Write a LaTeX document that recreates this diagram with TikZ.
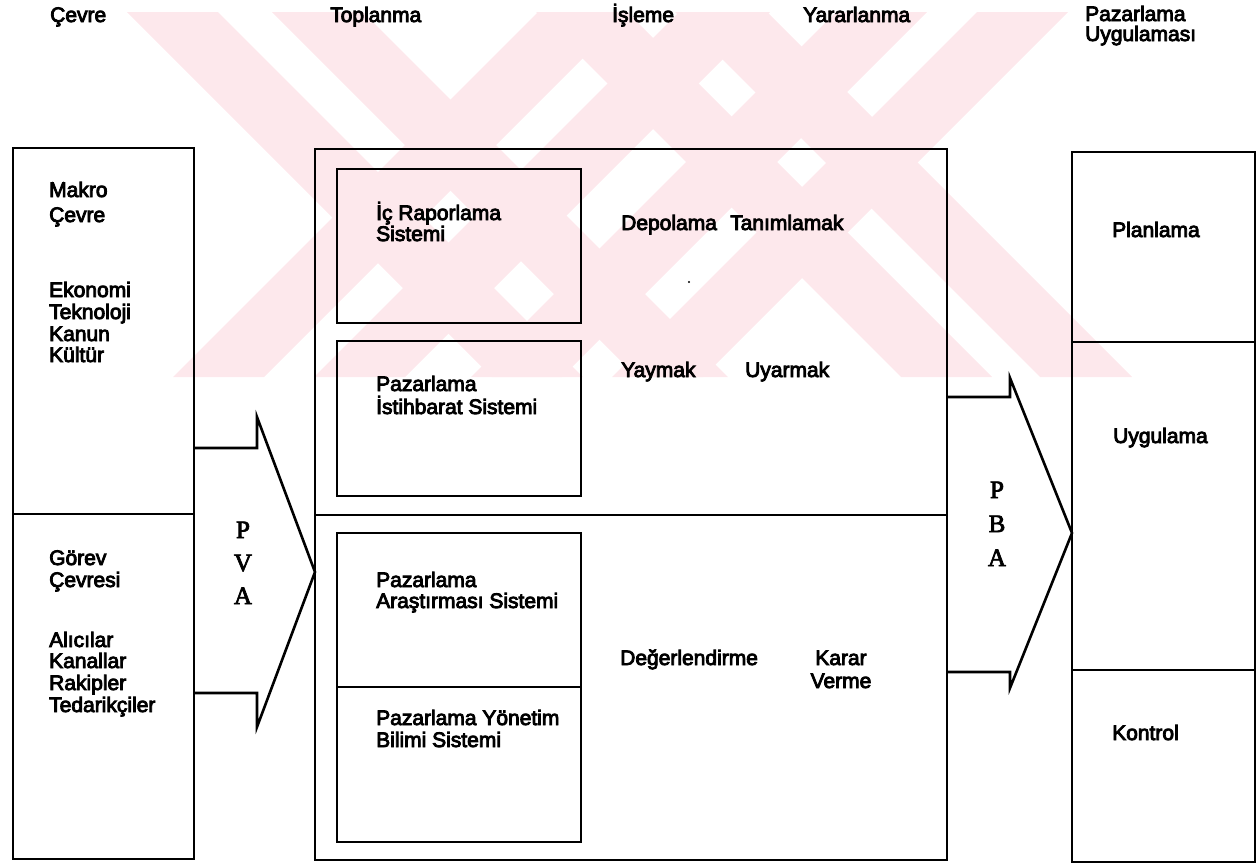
\documentclass[tikz,border=0pt]{standalone}
\usepackage{fontspec}
\setmainfont[FakeBold=4]{Liberation Sans}
\newfontfamily\letterfont[FakeBold=3]{Liberation Serif}
\definecolor{markpink}{RGB}{253,232,236}
\begin{document}
\begin{tikzpicture}[x=1pt,y=-1pt,
  panel/.style={draw=black,line width=2.8pt,inner sep=0pt,outer sep=0pt,anchor=north west},
  blockarrow/.style={draw=black,line width=2.6pt,line join=miter},
  lbl/.style={anchor=base west,inner sep=0pt,font=\fontsize{21}{22}\selectfont},
  clbl/.style={anchor=base,inner sep=0pt,font=\fontsize{21}{22}\selectfont},
  letter/.style={anchor=base,inner sep=0pt,font=\letterfont\fontsize{25}{26}\selectfont}
]
\useasboundingbox (0,0) rectangle (1259,863);

% pale striped emblem in the background
\begin{scope}
  \clip (0,12) rectangle (1259,377);
  \foreach \a/\b in {115/206,260/351,524/615,663/755}
    \fill[markpink] (\a+12,12) -- (\b+12,12) -- (\b+377,377) -- (\a+377,377) -- cycle;
  \foreach \a/\b in {550/641,691/782,848/939,989/1080}
    \fill[markpink] (\a-12,12) -- (\b-12,12) -- (\b-377,377) -- (\a-377,377) -- cycle;
\end{scope}

% column headings
\node[lbl] (hcevre) at (50,22) {Çevre};
\node[lbl] (htop)   at (330,22) {Toplanma};
\node[lbl] (hisl)   at (612,22) {İşleme};
\node[lbl] (hyar)   at (803,22) {Yararlanma};
\node[lbl] (hpaz1)  at (1085,21) {Pazarlama};
\node[lbl] (hpaz2)  at (1085,41) {Uygulaması};

% environment column
\node[panel,minimum width=181pt,minimum height=366pt] (macro) at (13,148) {};
\node[panel,minimum width=181pt,minimum height=345pt] (task)  at (13,514) {};

% marketing information system
\node[panel,minimum width=632pt,minimum height=366pt] (upper) at (315,149) {};
\node[panel,minimum width=632pt,minimum height=345pt] (lower) at (315,515) {};
\node[panel,minimum width=244pt,minimum height=154pt] (irs) at (337,169) {};
\node[panel,minimum width=244pt,minimum height=155pt] (mis) at (337,341) {};
\node[panel,minimum width=244pt,minimum height=154pt] (mrs) at (337,533) {};
\node[panel,minimum width=244pt,minimum height=155pt] (mss) at (337,687) {};

% marketing management column
\node[panel,minimum width=183pt,minimum height=190pt] (plan) at (1072,152) {};
\node[panel,minimum width=183pt,minimum height=328pt] (impl) at (1072,342) {};
\node[panel,minimum width=183pt,minimum height=192pt] (ctrl) at (1072,670) {};

% block arrows
\draw[blockarrow] (macro.east |- 0,448) -- (257,448) -- (257,417)
  -- (upper.west |- 0,572) -- (257,727) -- (257,693) -- (task.east |- 0,693);
\draw[blockarrow] (upper.east |- 0,397) -- (1010,397) -- (1010,378)
  -- (impl.west |- 0,533) -- (1010,688) -- (1010,672) -- (lower.east |- 0,672);

\node[letter] (p1) at (243,538) {P};
\node[letter] (v1) at (243,571) {V};
\node[letter] (a1) at (243,604) {A};
\node[letter] (p2) at (997,498) {P};
\node[letter] (b2) at (997,532) {B};
\node[letter] (a2) at (997,566) {A};

% environment texts
\node[lbl] (t1)  at (49,197) {Makro};
\node[lbl] (t2)  at (49,222) {Çevre};
\node[lbl] (t3)  at (49,297) {Ekonomi};
\node[lbl] (t4)  at (49,319) {Teknoloji};
\node[lbl] (t5)  at (49,341) {Kanun};
\node[lbl] (t6)  at (49,362) {Kültür};
\node[lbl] (t7)  at (49,565) {Görev};
\node[lbl] (t8)  at (49,587) {Çevresi};
\node[lbl] (t9)  at (49,647) {Alıcılar};
\node[lbl] (t10) at (49,668) {Kanallar};
\node[lbl] (t11) at (49,690) {Rakipler};
\node[lbl] (t12) at (49,712) {Tedarikçiler};

% subsystem texts
\node[lbl] (s1) at (376,220) {İç Raporlama};
\node[lbl] (s2) at (376,241) {Sistemi};
\node[lbl] (s3) at (376,391) {Pazarlama};
\node[lbl] (s4) at (376,414) {İstihbarat Sistemi};
\node[lbl] (s5) at (376,587) {Pazarlama};
\node[lbl] (s6) at (376,608) {Araştırması Sistemi};
\node[lbl] (s7) at (376,725) {Pazarlama Yönetim};
\node[lbl] (s8) at (376,747) {Bilimi Sistemi};

% processing texts
\node[lbl] (d1) at (621,230) {Depolama};
\node[lbl] (d2) at (730,230) {Tanımlamak};
\node[lbl] (d3) at (621,377) {Yaymak};
\node[lbl] (d4) at (745,377) {Uyarmak};
\node[lbl] (d5) at (620,665) {Değerlendirme};
\node[clbl] (d6) at (841,665) {Karar};
\node[clbl] (d7) at (841,688) {Verme};
\fill (689,282) circle (1.2pt);

% management texts
\node[lbl] (m1) at (1112,237) {Planlama};
\node[lbl] (m2) at (1113,443) {Uygulama};
\node[lbl] (m3) at (1112,740) {Kontrol};
\end{tikzpicture}
\end{document}
